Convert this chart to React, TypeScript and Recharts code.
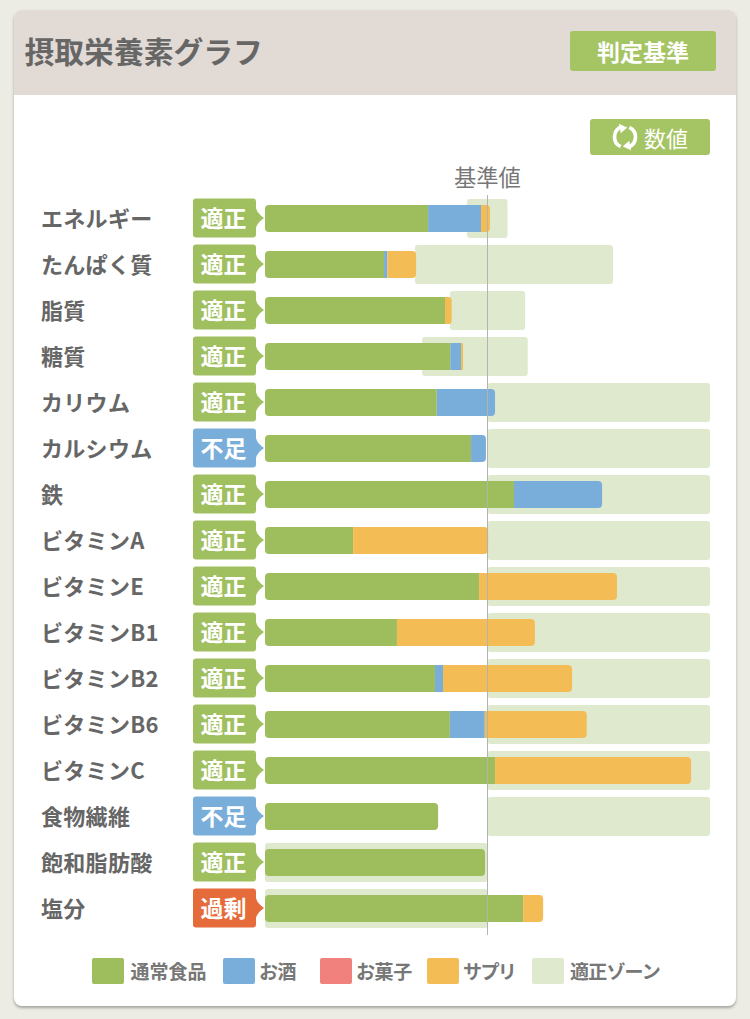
import React from 'react';
import { BarChart, Bar, XAxis, YAxis, ReferenceLine, Rectangle } from 'recharts';

const FONT = '"Noto Sans CJK JP", "Noto Sans", sans-serif';

const nutrients = ['エネルギー', 'たんぱく質', '脂質', '糖質', 'カリウム', 'カルシウム', '鉄', 'ビタミンA', 'ビタミンE', 'ビタミンB1', 'ビタミンB2', 'ビタミンB6', 'ビタミンC', '食物繊維', '飽和脂肪酸', '塩分'];
const statuses = ['適正', '適正', '適正', '適正', '適正', '不足', '適正', '適正', '適正', '適正', '適正', '適正', '適正', '不足', '適正', '過剰'];

// 基準値 = 100
const food = [73.3, 53.5, 80.9, 83.3, 77.2, 92.6, 111.9, 39.6, 96.2, 59.3, 76.4, 83.1, 103.4, 77.8, 98.9, 116];
const alcohol = [23.8, 1.5, 0, 4.8, 26.2, 6.7, 39.6, 0, 0, 0, 3.6, 15.7, 0, 0, 0, 0];
const snack = [0, 0, 0, 0, 0, 0, 0, 0, 0, 0, 0, 0, 0, 0, 0, 0];
const supplement = [4, 12.9, 3, 0.9, 0, 0, 0, 60.7, 62, 62, 58, 45.8, 88.1, 0, 0, 9];
const zoneLow = [90.8, 67.4, 83.1, 70.6, 100, 100, 100, 100, 100, 100, 100, 100, 100, 100, 0, 0];
const zoneHigh = [109, 156.4, 116.9, 118.1, 200, 200, 200, 200, 200, 200, 200, 200, 200, 200, 100, 100];

const legendLabels = ['通常食品', 'お酒', 'お菓子', 'サプリ', '適正ゾーン'];
const legendColors = ['#9ebe5e', '#7aaeda', '#f0817d', '#f4bc55', '#dfe9cd'];
const legendSwatchX = [92, 223, 320, 427, 532];
const legendTextX = [130.5, 259, 356, 463, 570];
const legendSpacing = [0, -0.5, -0.4, -1.6, -0.8];

const statusColors: Record<string, string> = { 適正: '#a0bf5f', 不足: '#7aaeda', 過剰: '#e56b3a' };

const rows = nutrients.map((name, i) => ({
  name,
  status: statuses[i],
  food: food[i],
  alcohol: alcohol[i],
  snack: snack[i],
  supplement: supplement[i],
  zone: [zoneLow[i], zoneHigh[i]],
}));

const stackKeys = ['food', 'alcohol', 'snack', 'supplement'];

function segmentShape(key: string) {
  return (props: any) => {
    if (!props.width || props.width <= 0) return <g />;
    const idx = stackKeys.indexOf(key);
    const row = props.payload;
    const isLast = stackKeys.slice(idx + 1).every((k) => !row[k]);
    const l = idx === 0 ? 4 : 0;
    const r = isLast ? 4 : 0;
    return <Rectangle x={props.x} y={props.y} width={props.width} height={props.height} fill={props.fill} radius={[l, r, r, l]} />;
  };
}

function RowTick({ y, payload, index }: any) {
  const status = statuses[index];
  const color = statusColors[status];
  return (
    <g fontFamily={FONT}>
      <text x={41} y={y + 9} fontSize={22} fontWeight={700} fill="#666" letterSpacing={0.3}>{payload.value}</text>
      <path
        d={`M196 ${y - 19.5} H253 Q256 ${y - 19.5} 256 ${y - 16.5} V${y - 10} Q257 ${y - 5} 264 ${y} Q257 ${y + 5} 256 ${y + 10} V${y + 16.5} Q256 ${y + 19.5} 253 ${y + 19.5} H196 Q193 ${y + 19.5} 193 ${y + 16.5} V${y - 16.5} Q193 ${y - 19.5} 196 ${y - 19.5} Z`}
        fill={color}
      />
      <text x={223.5} y={y + 9} fontSize={23} fontWeight={700} fill="#fff" textAnchor="middle">{status}</text>
    </g>
  );
}

function BaseLine({ x1, y1, x2, y2 }: any) {
  return <line x1={x1} y1={Math.min(y1, y2)} x2={x2} y2={Math.max(y1, y2) + 4} stroke="#b4b4ae" strokeWidth={1} />;
}

function RefreshIcon() {
  return (
    <svg width={28} height={28} viewBox="0 0 26 26" style={{ position: 'absolute', left: 21, top: 4 }}>
      <path d="M10 3.5 A10 10 0 0 0 9 22" fill="none" stroke="#fff" strokeWidth={3.4} />
      <path d="M16 22.5 A10 10 0 0 0 17 4" fill="none" stroke="#fff" strokeWidth={3.4} />
      <path d="M8 0 L15 5 L8 9 Z" fill="#fff" transform="rotate(-12 11 4)" />
      <path d="M18 26 L11 21 L18 17 Z" fill="#fff" transform="rotate(-12 15 22)" />
    </svg>
  );
}

export default function App() {
  return (
    <div style={{ position: 'absolute', left: 0, top: 0, width: 750, height: 1019, background: '#ecece4', overflow: 'hidden', fontFamily: FONT }}>
      <div style={{ position: 'absolute', left: 14, top: 10, width: 722, height: 996, background: '#fff', borderRadius: 8, boxShadow: '0 2px 3px rgba(0,0,0,0.3)' }} />
      <div style={{ position: 'absolute', left: 14, top: 10, width: 722, height: 85, background: '#e2dad5', borderRadius: '8px 8px 0 0' }} />
      <div style={{ position: 'absolute', left: 24.5, top: 29, fontSize: 29.8, lineHeight: '42px', fontWeight: 700, color: '#666', whiteSpace: 'nowrap' }}>摂取栄養素グラフ</div>
      <div style={{ position: 'absolute', left: 570, top: 31, width: 146, height: 40, background: '#a5c463', borderRadius: 3, color: '#fff', fontSize: 23, fontWeight: 700, lineHeight: '40px', textAlign: 'center' }}>判定基準</div>
      <div style={{ position: 'absolute', left: 590, top: 119, width: 120, height: 36, background: '#a5c463', borderRadius: 3, color: '#fff' }}>
        <RefreshIcon />
        <span style={{ position: 'absolute', left: 54, top: 0, fontSize: 22, lineHeight: '36px', whiteSpace: 'nowrap' }}>数値</span>
      </div>
      <div style={{ position: 'absolute', left: 454, top: 161, fontSize: 22.3, lineHeight: '30px', color: '#777', whiteSpace: 'nowrap' }}>基準値</div>

      <div style={{ position: 'absolute', left: 0, top: 0 }}>
        <BarChart width={750} height={1019} data={rows} layout="vertical" margin={{ top: 195, right: 40, bottom: 88, left: 0 }} barGap={0}>
          <XAxis type="number" domain={[0, 200]} hide />
          <YAxis yAxisId="zone" type="category" dataKey="name" width={265} axisLine={false} tickLine={false} interval={0} tick={RowTick} />
          <YAxis yAxisId="main" type="category" dataKey="name" hide />
          <Bar yAxisId="zone" dataKey="zone" fill="#dfe9cd" barSize={39} radius={3} isAnimationActive={false} />
          <Bar yAxisId="main" dataKey="food" stackId="a" fill="#9ebe5e" barSize={27} shape={segmentShape('food')} isAnimationActive={false} />
          <Bar yAxisId="main" dataKey="alcohol" stackId="a" fill="#7aaeda" barSize={27} shape={segmentShape('alcohol')} isAnimationActive={false} />
          <Bar yAxisId="main" dataKey="snack" stackId="a" fill="#f0817d" barSize={27} shape={segmentShape('snack')} isAnimationActive={false} />
          <Bar yAxisId="main" dataKey="supplement" stackId="a" fill="#f4bc55" barSize={27} shape={segmentShape('supplement')} isAnimationActive={false} />
          <ReferenceLine yAxisId="main" x={100} shape={BaseLine} />
        </BarChart>
      </div>

      {legendLabels.map((label, i) => (
        <React.Fragment key={label}>
          <div style={{ position: 'absolute', left: legendSwatchX[i], top: 958, width: 32, height: 26, background: legendColors[i], borderRadius: 2 }} />
          <div style={{ position: 'absolute', left: legendTextX[i], top: 957, fontSize: 19, lineHeight: '28px', fontWeight: 700, color: '#777', whiteSpace: 'nowrap', letterSpacing: legendSpacing[i] }}>{label}</div>
        </React.Fragment>
      ))}
    </div>
  );
}
